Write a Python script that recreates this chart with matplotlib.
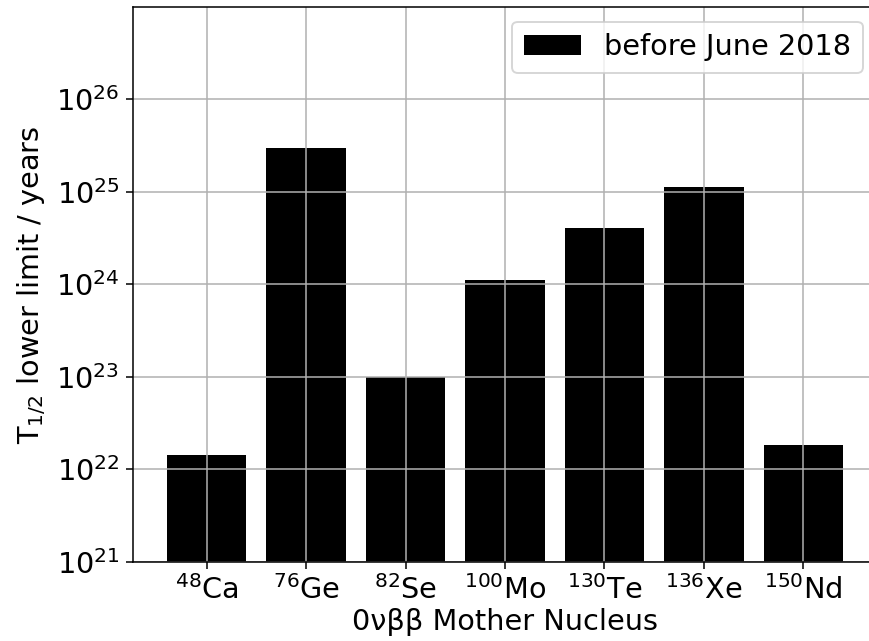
import matplotlib
matplotlib.use("Agg")
import matplotlib.pyplot as plt
from matplotlib.ticker import NullLocator

isotopes = ["48", "76", "82", "100", "130", "136", "150"]
elements = ["Ca", "Ge", "Se", "Mo", "Te", "Xe", "Nd"]
half_life_limits = [1.43e22, 3.0e25, 1.0e23, 1.11e24, 4.04e24, 1.13e25, 1.83e22]
legend_label = "before June 2018"

labels = ["${}^{%s}$%s" % (a, e) for a, e in zip(isotopes, elements)]

plt.rcParams["font.size"] = 15
DPI = 138
fig = plt.figure(figsize=(869 / DPI, 641 / DPI), dpi=DPI)
ax = fig.add_axes([132.7 / 869, (641 - 561.7) / 641, 744.6 / 869, 554.4 / 641])

x = list(range(len(elements)))
ax.bar(x, half_life_limits, width=0.8, color="black", label=legend_label, log=True)
ax.set_yscale("log")
ax.set_ylim(1e21, 9.9e26)
ax.set_xlim(-0.744, 6.744)
ax.yaxis.set_minor_locator(NullLocator())
ax.set_xticks(x)
ax.set_xticklabels(labels)
ax.grid(True)
ax.set_xlabel("0νββ Mother Nucleus", labelpad=1.5)
ax.set_ylabel("T$_{1/2}$ lower limit / years")
ax.legend(loc="upper right")

fig.savefig("out.png", dpi=DPI)
